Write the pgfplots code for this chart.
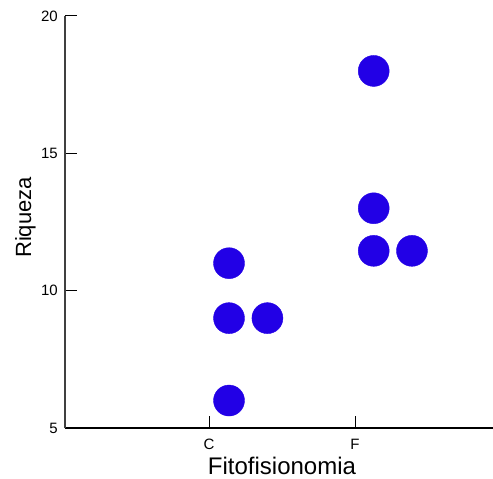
\documentclass[border=0pt]{standalone}
\usepackage{fontspec}
\setmainfont{Liberation Sans}
\usepackage{pgfplots}
\pgfplotsset{compat=1.18}
\definecolor{dotblue}{RGB}{34,0,230}
\definecolor{axgray}{RGB}{64,64,64}
\begin{document}
\begin{tikzpicture}
\begin{axis}[
  at={(0,0)}, anchor=south west,
  scale only axis,
  width=428bp, height=412bp,
  xmin=0.0137, xmax=2.945,
  ymin=5, ymax=20,
  axis lines*=left,
  x axis line style={black, line width=1.2bp},
  y axis line style={axgray, line width=1.2bp},
  tick align=inside,
  major tick length=12bp,
  every tick/.style={black, line width=1bp},
  xtick={1,2}, xticklabels={C,F},
  ytick={5,10,15,20},
  minor tick num=0,
  /pgf/number format/assume math mode=true,
  ticklabel style={font=\fontsize{15bp}{18bp}\selectfont},
  yticklabel style={anchor=east, inner sep=0pt, xshift=-7bp},
  xticklabel style={anchor=north, inner sep=0pt, yshift=-11bp},
  xlabel={Fitofisionomia},
  ylabel={Riqueza},
  xlabel style={font=\fontsize{24bp}{28bp}\selectfont, at={(axis description cs:0.507,0)}, anchor=base, yshift=-46bp, inner sep=0pt},
  ylabel style={font=\fontsize{22bp}{26bp}\selectfont, at={(axis description cs:-0.0794,0.511)}, anchor=base, inner sep=0pt},
  clip=false,
]
\addplot[only marks, mark=*, mark size=15.5bp, mark options={fill=dotblue, draw=dotblue}] coordinates {
  (1.137,11) (1.137,9) (1.40,9) (1.137,6)
  (2.128,18) (2.128,13) (2.128,11.45) (2.39,11.45)
};
\end{axis}
\pgfresetboundingbox
\path (-65bp,-51bp) rectangle (428bp,428bp);
\end{tikzpicture}
\end{document}
